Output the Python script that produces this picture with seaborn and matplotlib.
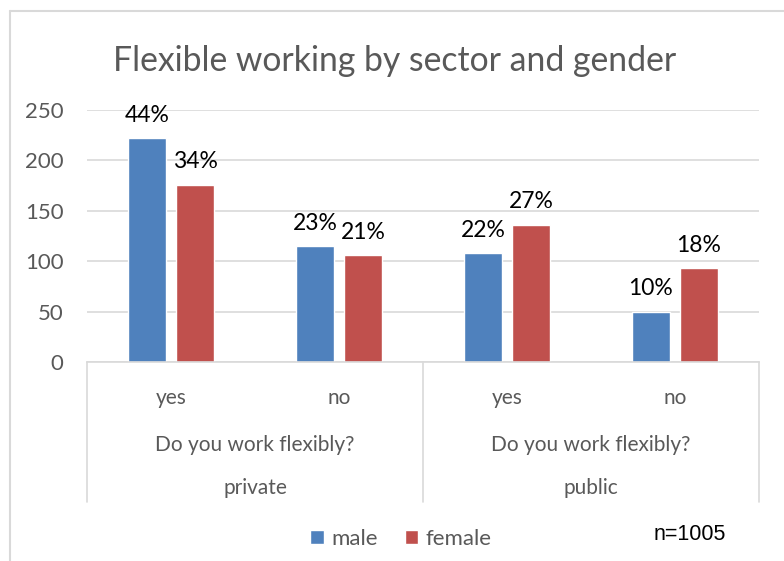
import matplotlib
matplotlib.use("Agg")
import matplotlib.pyplot as plt
from matplotlib.lines import Line2D
import seaborn as sns
import pandas as pd

# Survey counts by sector / flexible-working answer / gender
sectors = ["private", "private", "public", "public"]
answers = ["yes", "no", "yes", "no"]
male_counts = [222, 115, 108, 50]
female_counts = [176, 106, 136, 93]
male_pct = ["44%", "23%", "22%", "10%"]
female_pct = ["34%", "21%", "27%", "18%"]
genders = ["male", "female"]
question = "Do you work flexibly?"
group_names = ["private", "public"]
y_ticks = [0, 50, 100, 150, 200, 250]

keys = [f"{s} {a}" for s, a in zip(sectors, answers)]
df = pd.DataFrame({
    "key": keys * 2,
    "gender": ["male"] * 4 + ["female"] * 4,
    "count": male_counts + female_counts,
})

W, H = 784, 561
sns.set_theme(style="white")
plt.rcParams["font.family"] = ["Lato", "DejaVu Sans"]

fig = plt.figure(figsize=(W / 100, H / 100), dpi=100)
fig.patch.set_facecolor("white")

def fx(px):
    return px / W

def fy(py):
    return 1 - py / H

left, right, top, bottom = 87, 759, 110, 362
ax = fig.add_axes([fx(left), fy(bottom), fx(right) - fx(left), (bottom - top) / H])

palette = {"male": "#4F81BD", "female": "#C0504D"}
sns.barplot(data=df, x="key", y="count", hue="gender", order=keys,
            hue_order=genders, palette=palette, width=0.572, gap=0.21,
            saturation=1, ax=ax, legend=True)

grey = "#595959"
ax.set_ylim(0, 250)
ax.set_xlim(-0.5, 3.5)
ax.set_yticks(y_ticks)
ax.set_yticklabels([str(t) for t in y_ticks], color=grey, fontsize=16)
ax.tick_params(axis="y", length=0, pad=17)
ax.yaxis.grid(True, color="#d9d9d9", linewidth=1.2)
ax.set_axisbelow(True)
ax.set_xticks(range(4))
ax.set_xticklabels(answers, color=grey, fontsize=15)
ax.tick_params(axis="x", length=0, pad=19)
ax.set_xlabel("")
ax.set_ylabel("")
for side in ["left", "right", "top"]:
    ax.spines[side].set_visible(False)
ax.spines["bottom"].set_color("#d9d9d9")
ax.spines["bottom"].set_linewidth(1.2)

for container, labels in zip(ax.containers, [male_pct, female_pct]):
    ax.bar_label(container, labels=labels, padding=9, fontsize=16.5, color="black")

# grouping labels under the category axis
for i, name in enumerate(group_names):
    cx = fx(left) + (fx(right) - fx(left)) * (0.25 + 0.5 * i)
    fig.text(cx, fy(445), question, ha="center", va="center",
             color=grey, fontsize=15)
    fig.text(cx, fy(488), name, ha="center", va="center",
             color=grey, fontsize=15)

# category-axis divider lines
for px in [left, (left + right) / 2, right]:
    fig.add_artist(Line2D([fx(px), fx(px)], [fy(bottom), fy(502)],
                          color="#d9d9d9", linewidth=1.2))

# chart area border
fig.add_artist(Line2D([fx(10), 1], [fy(11), fy(11)], color="#d9d9d9", linewidth=1.5))
fig.add_artist(Line2D([fx(10), fx(10)], [fy(11), 0], color="#d9d9d9", linewidth=1.5))

fig.text(fx(395), fy(61), "Flexible working by sector and gender",
         ha="center", va="center", color=grey, fontsize=24.3)

sns.move_legend(ax, "center", bbox_to_anchor=(fx(401), fy(539)),
                bbox_transform=fig.transFigure, ncol=2, frameon=False,
                title=None, fontsize=16, handlelength=0.6, handleheight=0.6,
                handletextpad=0.35, columnspacing=1.2)
for t in ax.get_legend().get_texts():
    t.set_color(grey)

fig.text(fx(690), fy(534), "n=1005", ha="center", va="center",
         color="black", fontsize=15.5, family="Liberation Sans")

fig.savefig("out.png", dpi=100, facecolor="white")
